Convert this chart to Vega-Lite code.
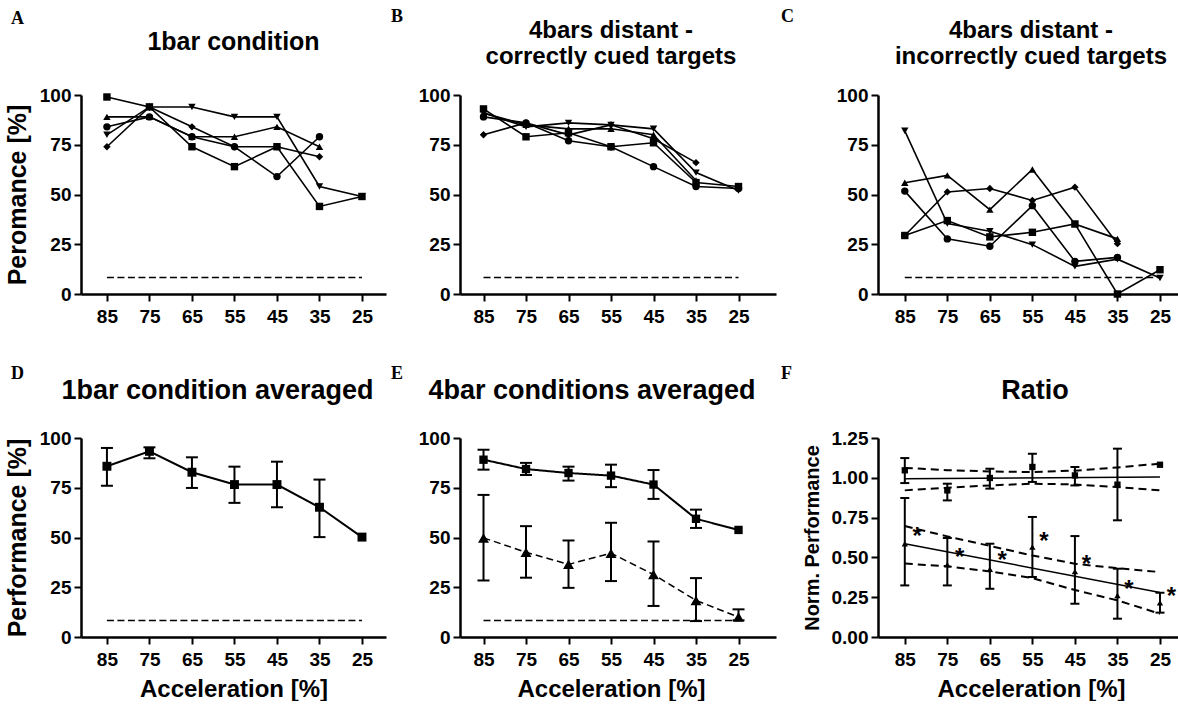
{
  "$schema": "https://vega.github.io/schema/vega-lite/v6.json",
  "background": "white",
  "padding": {"left": 5, "top": 8, "right": 0, "bottom": 0},
  "config": {
    "view": {"stroke": null},
    "font": "Liberation Sans",
    "axis": {"domainColor": "black", "domainWidth": 2.5, "tickColor": "black", "tickWidth": 2, "tickSize": 7, "labelFont": "Liberation Sans", "labelFontWeight": "bold", "labelFontSize": 19, "labelColor": "black", "titleFont": "Liberation Sans", "titleFontWeight": "bold", "titleFontSize": 25, "titleColor": "black", "grid": false, "labelFlush": false, "labelOverlap": false},
    "axisX": {"labelPadding": 6, "titlePadding": 8, "titleFontSize": 24},
    "axisY": {"labelPadding": 3, "titlePadding": 9},
    "title": {"font": "Liberation Sans", "fontSize": 25, "fontWeight": "bold", "color": "black"}
  },
  "datasets": {
    "chance": [{"acc": 85, "v": 8.33}, {"acc": 25, "v": 8.33}],
    "A": [
      {"acc": 85, "v": 99, "s": "sq"}, {"acc": 75, "v": 94, "s": "sq"}, {"acc": 65, "v": 74, "s": "sq"}, {"acc": 55, "v": 64, "s": "sq"}, {"acc": 45, "v": 74, "s": "sq"}, {"acc": 35, "v": 44, "s": "sq"}, {"acc": 25, "v": 49, "s": "sq"},
      {"acc": 85, "v": 89, "s": "tu"}, {"acc": 75, "v": 89, "s": "tu"}, {"acc": 65, "v": 79, "s": "tu"}, {"acc": 55, "v": 79, "s": "tu"}, {"acc": 45, "v": 84, "s": "tu"}, {"acc": 35, "v": 74, "s": "tu"},
      {"acc": 85, "v": 80, "s": "td"}, {"acc": 75, "v": 94, "s": "td"}, {"acc": 65, "v": 94, "s": "td"}, {"acc": 55, "v": 89, "s": "td"}, {"acc": 45, "v": 89, "s": "td"}, {"acc": 35, "v": 54, "s": "td"}, {"acc": 25, "v": 49, "s": "td"},
      {"acc": 85, "v": 74, "s": "di"}, {"acc": 75, "v": 94, "s": "di"}, {"acc": 65, "v": 84, "s": "di"}, {"acc": 55, "v": 74, "s": "di"}, {"acc": 45, "v": 74, "s": "di"}, {"acc": 35, "v": 69, "s": "di"},
      {"acc": 85, "v": 84, "s": "ci"}, {"acc": 75, "v": 89, "s": "ci"}, {"acc": 65, "v": 79, "s": "ci"}, {"acc": 55, "v": 74, "s": "ci"}, {"acc": 45, "v": 59, "s": "ci"}, {"acc": 35, "v": 79, "s": "ci"}
    ],
    "B": [
      {"acc": 85, "v": 93, "s": "sq"}, {"acc": 75, "v": 79, "s": "sq"}, {"acc": 65, "v": 81, "s": "sq"}, {"acc": 55, "v": 74, "s": "sq"}, {"acc": 45, "v": 76, "s": "sq"}, {"acc": 35, "v": 56, "s": "sq"}, {"acc": 25, "v": 54, "s": "sq"},
      {"acc": 85, "v": 89, "s": "ci"}, {"acc": 75, "v": 86, "s": "ci"}, {"acc": 65, "v": 77, "s": "ci"}, {"acc": 55, "v": 74, "s": "ci"}, {"acc": 45, "v": 64, "s": "ci"}, {"acc": 35, "v": 54, "s": "ci"}, {"acc": 25, "v": 53, "s": "ci"},
      {"acc": 85, "v": 80, "s": "di"}, {"acc": 75, "v": 86, "s": "di"}, {"acc": 65, "v": 80, "s": "di"}, {"acc": 55, "v": 85, "s": "di"}, {"acc": 45, "v": 78, "s": "di"}, {"acc": 35, "v": 66, "s": "di"},
      {"acc": 85, "v": 91, "s": "tu"}, {"acc": 75, "v": 85, "s": "tu"}, {"acc": 65, "v": 83, "s": "tu"}, {"acc": 55, "v": 83, "s": "tu"}, {"acc": 45, "v": 80, "s": "tu"}, {"acc": 35, "v": 57, "s": "tu"},
      {"acc": 85, "v": 91, "s": "td"}, {"acc": 75, "v": 84, "s": "td"}, {"acc": 65, "v": 86, "s": "td"}, {"acc": 55, "v": 85, "s": "td"}, {"acc": 45, "v": 83, "s": "td"}, {"acc": 35, "v": 61, "s": "td"}, {"acc": 25, "v": 52, "s": "td"}
    ],
    "C": [
      {"acc": 85, "v": 29.4, "s": "sq"}, {"acc": 75, "v": 36.9, "s": "sq"}, {"acc": 65, "v": 28.7, "s": "sq"}, {"acc": 55, "v": 31, "s": "sq"}, {"acc": 45, "v": 35.2, "s": "sq"}, {"acc": 35, "v": 0, "s": "sq"}, {"acc": 25, "v": 12.2, "s": "sq"},
      {"acc": 85, "v": 55.9, "s": "tu"}, {"acc": 75, "v": 59.6, "s": "tu"}, {"acc": 65, "v": 42.4, "s": "tu"}, {"acc": 55, "v": 62.6, "s": "tu"}, {"acc": 45, "v": 35.2, "s": "tu"}, {"acc": 35, "v": 27.7, "s": "tu"},
      {"acc": 85, "v": 82, "s": "td"}, {"acc": 75, "v": 35.4, "s": "td"}, {"acc": 65, "v": 31.5, "s": "td"}, {"acc": 55, "v": 24.8, "s": "td"}, {"acc": 45, "v": 13.9, "s": "td"}, {"acc": 35, "v": 17.5, "s": "td"}, {"acc": 25, "v": 8, "s": "td"},
      {"acc": 85, "v": 29.4, "s": "di"}, {"acc": 75, "v": 51.3, "s": "di"}, {"acc": 65, "v": 53, "s": "di"}, {"acc": 55, "v": 47, "s": "di"}, {"acc": 45, "v": 53.7, "s": "di"}, {"acc": 35, "v": 25.3, "s": "di"},
      {"acc": 85, "v": 51.7, "s": "ci"}, {"acc": 75, "v": 27.7, "s": "ci"}, {"acc": 65, "v": 24, "s": "ci"}, {"acc": 55, "v": 44.4, "s": "ci"}, {"acc": 45, "v": 16.4, "s": "ci"}, {"acc": 35, "v": 18.4, "s": "ci"}
    ],
    "D": [
      {"acc": 85, "v": 85.8, "lo": 76, "hi": 95}, {"acc": 75, "v": 93.3, "lo": 89.8, "hi": 95.3}, {"acc": 65, "v": 82.8, "lo": 74.9, "hi": 90.3}, {"acc": 55, "v": 76.6, "lo": 67.4, "hi": 85.6}, {"acc": 45, "v": 76.6, "lo": 65.2, "hi": 88.1}, {"acc": 35, "v": 65.2, "lo": 50.2, "hi": 79.1}, {"acc": 25, "v": 50.2, "lo": null, "hi": null}
    ],
    "E": [
      {"acc": 85, "v": 89.1, "lo": 84.1, "hi": 94.1, "c": "correct"}, {"acc": 75, "v": 84.4, "lo": 81.4, "hi": 87.5, "c": "correct"}, {"acc": 65, "v": 82.4, "lo": 78.6, "hi": 85.6, "c": "correct"}, {"acc": 55, "v": 81.1, "lo": 75.3, "hi": 86.6, "c": "correct"}, {"acc": 45, "v": 76.6, "lo": 69.4, "hi": 83.9, "c": "correct"}, {"acc": 35, "v": 59.4, "lo": 54.8, "hi": 64, "c": "correct"}, {"acc": 25, "v": 53.8, "lo": null, "hi": null, "c": "correct"},
      {"acc": 85, "v": 49.8, "lo": 28.4, "hi": 71.4, "c": "incorrect"}, {"acc": 75, "v": 42.6, "lo": 29.8, "hi": 55.7, "c": "incorrect"}, {"acc": 65, "v": 36.5, "lo": 24.7, "hi": 48.5, "c": "incorrect"}, {"acc": 55, "v": 42.1, "lo": 28.1, "hi": 57.4, "c": "incorrect"}, {"acc": 45, "v": 31.4, "lo": 15.6, "hi": 48, "c": "incorrect"}, {"acc": 35, "v": 18.4, "lo": 8, "hi": 29.6, "c": "incorrect"}, {"acc": 25, "v": 10, "lo": 8.4, "hi": 13.9, "c": "incorrect"}
    ],
    "F": [
      {"acc": 85, "v": 1.047, "lo": 0.967, "hi": 1.124, "c": "correct"}, {"acc": 75, "v": 0.921, "lo": 0.858, "hi": 0.963, "c": "correct"}, {"acc": 65, "v": 0.999, "lo": 0.932, "hi": 1.057, "c": "correct"}, {"acc": 55, "v": 1.068, "lo": 0.974, "hi": 1.151, "c": "correct"}, {"acc": 45, "v": 1.015, "lo": 0.952, "hi": 1.068, "c": "correct"}, {"acc": 35, "v": 0.957, "lo": 0.733, "hi": 1.183, "c": "correct"}, {"acc": 25, "v": 1.082, "lo": null, "hi": null, "c": "correct"},
      {"acc": 85, "v": 0.586, "lo": 0.324, "hi": 0.873, "c": "incorrect"}, {"acc": 75, "v": 0.454, "lo": 0.324, "hi": 0.622, "c": "incorrect"}, {"acc": 65, "v": 0.425, "lo": 0.303, "hi": 0.586, "c": "incorrect"}, {"acc": 55, "v": 0.565, "lo": 0.377, "hi": 0.754, "c": "incorrect"}, {"acc": 45, "v": 0.412, "lo": 0.209, "hi": 0.634, "c": "incorrect"}, {"acc": 35, "v": 0.261, "lo": 0.115, "hi": 0.429, "c": "incorrect"}, {"acc": 25, "v": 0.215, "lo": 0.153, "hi": 0.278, "c": "incorrect"}
    ],
    "Ffit": [
      {"acc": 85, "v": 0.994, "g": "c"}, {"acc": 25, "v": 1.005, "g": "c"},
      {"acc": 85, "v": 0.586, "g": "i"}, {"acc": 25, "v": 0.28, "g": "i"}
    ],
    "Fci": [
      {"acc": 85, "v": 1.062, "g": "cu"}, {"acc": 75, "v": 1.048, "g": "cu"}, {"acc": 65, "v": 1.04, "g": "cu"}, {"acc": 55, "v": 1.036, "g": "cu"}, {"acc": 45, "v": 1.045, "g": "cu"}, {"acc": 35, "v": 1.065, "g": "cu"}, {"acc": 25, "v": 1.089, "g": "cu"},
      {"acc": 85, "v": 0.921, "g": "cl"}, {"acc": 75, "v": 0.938, "g": "cl"}, {"acc": 65, "v": 0.952, "g": "cl"}, {"acc": 55, "v": 0.963, "g": "cl"}, {"acc": 45, "v": 0.958, "g": "cl"}, {"acc": 35, "v": 0.942, "g": "cl"}, {"acc": 25, "v": 0.921, "g": "cl"},
      {"acc": 85, "v": 0.697, "g": "iu"}, {"acc": 75, "v": 0.632, "g": "iu"}, {"acc": 65, "v": 0.572, "g": "iu"}, {"acc": 55, "v": 0.512, "g": "iu"}, {"acc": 45, "v": 0.46, "g": "iu"}, {"acc": 35, "v": 0.432, "g": "iu"}, {"acc": 25, "v": 0.408, "g": "iu"},
      {"acc": 85, "v": 0.461, "g": "il"}, {"acc": 75, "v": 0.444, "g": "il"}, {"acc": 65, "v": 0.412, "g": "il"}, {"acc": 55, "v": 0.37, "g": "il"}, {"acc": 45, "v": 0.295, "g": "il"}, {"acc": 35, "v": 0.23, "g": "il"}, {"acc": 25, "v": 0.146, "g": "il"}
    ],
    "Fstar": [
      {"acc": 82.1, "v": 0.67}, {"acc": 72.1, "v": 0.54}, {"acc": 62.1, "v": 0.521}, {"acc": 52.3, "v": 0.638}, {"acc": 42.3, "v": 0.496}, {"acc": 32.3, "v": 0.341}, {"acc": 22.3, "v": 0.297}
    ]
  },
  "columns": 3,
  "align": "each",
  "spacing": {"row": 39, "column": 5},
  "concat": [
    {
      "bounds": "flush",
      "title": {"text": "A", "anchor": "start", "frame": "group", "font": "Liberation Serif", "fontSize": 18, "fontWeight": "bold", "dx": -70, "offset": 2},
      "vconcat": [{
        "width": 305, "height": 199,
        "title": {"text": "1bar condition", "frame": "group", "offset": 31},
        "encoding": {
          "x": {"field": "acc", "type": "quantitative", "scale": {"domain": [19.35, 91.1], "reverse": true, "nice": false, "zero": false}, "axis": {"values": [85, 75, 65, 55, 45, 35, 25], "title": null}},
          "y": {"field": "v", "type": "quantitative", "scale": {"domain": [0, 100], "nice": false}, "axis": {"values": [0, 25, 50, 75, 100], "title": "Peromance [%]"}}
        },
        "layer": [
          {"data": {"name": "chance"}, "mark": {"type": "line", "color": "black", "strokeWidth": 1.5, "strokeDash": [7, 3.5]}},
          {"data": {"name": "A"}, "mark": {"type": "line", "color": "black", "strokeWidth": 1.6}, "encoding": {"detail": {"field": "s", "type": "nominal"}}},
          {"data": {"name": "A"}, "mark": {"type": "point", "filled": true, "color": "black", "opacity": 1, "size": 55}, "encoding": {"shape": {"field": "s", "type": "nominal", "scale": {"domain": ["sq", "tu", "td", "di", "ci"], "range": ["square", "triangle-up", "triangle-down", "diamond", "circle"]}, "legend": null}}}
        ]
      }]
    },
    {
      "bounds": "flush",
      "title": {"text": "B", "anchor": "start", "frame": "group", "font": "Liberation Serif", "fontSize": 18, "fontWeight": "bold", "dx": -69, "offset": -7},
      "vconcat": [{
        "width": 316, "height": 199,
        "title": {"text": ["4bars distant -", "correctly cued targets"], "frame": "group", "offset": 17, "lineHeight": 26, "fontSize": 24, "dx": -7},
        "encoding": {
          "x": {"field": "acc", "type": "quantitative", "scale": {"domain": [16.18, 90.53], "reverse": true, "nice": false, "zero": false}, "axis": {"values": [85, 75, 65, 55, 45, 35, 25], "title": null}},
          "y": {"field": "v", "type": "quantitative", "scale": {"domain": [0, 100], "nice": false}, "axis": {"values": [0, 25, 50, 75, 100], "title": null}}
        },
        "layer": [
          {"data": {"name": "chance"}, "mark": {"type": "line", "color": "black", "strokeWidth": 1.5, "strokeDash": [7, 3.5]}},
          {"data": {"name": "B"}, "mark": {"type": "line", "color": "black", "strokeWidth": 1.6}, "encoding": {"detail": {"field": "s", "type": "nominal"}}},
          {"data": {"name": "B"}, "mark": {"type": "point", "filled": true, "color": "black", "opacity": 1, "size": 55}, "encoding": {"shape": {"field": "s", "type": "nominal", "scale": {"domain": ["sq", "tu", "td", "di", "ci"], "range": ["square", "triangle-up", "triangle-down", "diamond", "circle"]}, "legend": null}}}
        ]
      }]
    },
    {
      "bounds": "flush",
      "title": {"text": "C", "anchor": "start", "frame": "group", "font": "Liberation Serif", "fontSize": 18, "fontWeight": "bold", "dx": -97, "offset": -7},
      "vconcat": [{
        "width": 306, "height": 199,
        "title": {"text": ["4bars distant -", "incorrectly cued targets"], "frame": "group", "offset": 17, "lineHeight": 26, "fontSize": 24},
        "encoding": {
          "x": {"field": "acc", "type": "quantitative", "scale": {"domain": [19.35, 91.3], "reverse": true, "nice": false, "zero": false}, "axis": {"values": [85, 75, 65, 55, 45, 35, 25], "title": null}},
          "y": {"field": "v", "type": "quantitative", "scale": {"domain": [0, 100], "nice": false}, "axis": {"values": [0, 25, 50, 75, 100], "title": null}}
        },
        "layer": [
          {"data": {"name": "chance"}, "mark": {"type": "line", "color": "black", "strokeWidth": 1.5, "strokeDash": [7, 3.5]}},
          {"data": {"name": "C"}, "mark": {"type": "line", "color": "black", "strokeWidth": 1.6}, "encoding": {"detail": {"field": "s", "type": "nominal"}}},
          {"data": {"name": "C"}, "mark": {"type": "point", "filled": true, "color": "black", "opacity": 1, "size": 55}, "encoding": {"shape": {"field": "s", "type": "nominal", "scale": {"domain": ["sq", "tu", "td", "di", "ci"], "range": ["square", "triangle-up", "triangle-down", "diamond", "circle"]}, "legend": null}}}
        ]
      }]
    },
    {
      "bounds": "flush",
      "title": {"text": "D", "anchor": "start", "frame": "group", "font": "Liberation Serif", "fontSize": 18, "fontWeight": "bold", "dx": -70, "offset": -6},
      "vconcat": [{
        "width": 305, "height": 199,
        "title": {"text": "1bar condition averaged", "frame": "group", "offset": 24, "dx": -16, "fontSize": 27},
        "encoding": {
          "x": {"field": "acc", "type": "quantitative", "scale": {"domain": [19.35, 91.1], "reverse": true, "nice": false, "zero": false}, "axis": {"values": [85, 75, 65, 55, 45, 35, 25], "title": "Acceleration [%]"}},
          "y": {"field": "v", "type": "quantitative", "scale": {"domain": [0, 100], "nice": false}, "axis": {"values": [0, 25, 50, 75, 100], "title": "Performance [%]"}}
        },
        "layer": [
          {"data": {"name": "chance"}, "mark": {"type": "line", "color": "black", "strokeWidth": 1.5, "strokeDash": [7, 3.5]}},
          {"data": {"name": "D"}, "mark": {"type": "line", "color": "black", "strokeWidth": 2}},
          {"data": {"name": "D"}, "mark": {"type": "rule", "color": "black", "strokeWidth": 2},
           "encoding": {"y": {"field": "lo", "type": "quantitative", "scale": {"domain": [0, 100], "nice": false}, "axis": {"values": [0, 25, 50, 75, 100], "title": "Performance [%]"}}, "y2": {"field": "hi"}}},
          {"data": {"name": "D"}, "mark": {"type": "tick", "orient": "horizontal", "color": "black", "size": 12, "thickness": 2, "opacity": 1},
           "encoding": {"y": {"field": "lo", "type": "quantitative", "scale": {"domain": [0, 100], "nice": false}, "axis": {"values": [0, 25, 50, 75, 100], "title": "Performance [%]"}}}},
          {"data": {"name": "D"}, "mark": {"type": "tick", "orient": "horizontal", "color": "black", "size": 12, "thickness": 2, "opacity": 1},
           "encoding": {"y": {"field": "hi", "type": "quantitative", "scale": {"domain": [0, 100], "nice": false}, "axis": {"values": [0, 25, 50, 75, 100], "title": "Performance [%]"}}}},
          {"data": {"name": "D"}, "mark": {"type": "point", "shape": "square", "filled": true, "color": "black", "opacity": 1, "size": 80}}
        ]
      }]
    },
    {
      "bounds": "flush",
      "title": {"text": "E", "anchor": "start", "frame": "group", "font": "Liberation Serif", "fontSize": 18, "fontWeight": "bold", "dx": -69, "offset": -6},
      "vconcat": [{
        "width": 316, "height": 199,
        "title": {"text": "4bar conditions averaged", "frame": "group", "offset": 24, "dx": -26, "fontSize": 27},
        "encoding": {
          "x": {"field": "acc", "type": "quantitative", "scale": {"domain": [16.18, 90.53], "reverse": true, "nice": false, "zero": false}, "axis": {"values": [85, 75, 65, 55, 45, 35, 25], "title": "Acceleration [%]", "titleX": 151}},
          "y": {"field": "v", "type": "quantitative", "scale": {"domain": [0, 100], "nice": false}, "axis": {"values": [0, 25, 50, 75, 100], "title": null}}
        },
        "layer": [
          {"data": {"name": "chance"}, "mark": {"type": "line", "color": "black", "strokeWidth": 1.5, "strokeDash": [7, 3.5]}},
          {"data": {"name": "E"}, "mark": {"type": "line", "color": "black"},
           "encoding": {"detail": {"field": "c", "type": "nominal"},
                        "strokeDash": {"field": "c", "type": "nominal", "scale": {"domain": ["correct", "incorrect"], "range": [[1, 0], [7, 4]]}, "legend": null},
                        "strokeWidth": {"field": "c", "type": "nominal", "scale": {"domain": ["correct", "incorrect"], "range": [2, 1.5]}, "legend": null}}},
          {"data": {"name": "E"}, "mark": {"type": "rule", "color": "black", "strokeWidth": 2},
           "encoding": {"y": {"field": "lo", "type": "quantitative", "scale": {"domain": [0, 100], "nice": false}, "axis": {"values": [0, 25, 50, 75, 100], "title": null}}, "y2": {"field": "hi"}}},
          {"data": {"name": "E"}, "mark": {"type": "tick", "orient": "horizontal", "color": "black", "size": 12, "thickness": 2, "opacity": 1},
           "encoding": {"y": {"field": "lo", "type": "quantitative", "scale": {"domain": [0, 100], "nice": false}, "axis": {"values": [0, 25, 50, 75, 100], "title": null}}}},
          {"data": {"name": "E"}, "mark": {"type": "tick", "orient": "horizontal", "color": "black", "size": 12, "thickness": 2, "opacity": 1},
           "encoding": {"y": {"field": "hi", "type": "quantitative", "scale": {"domain": [0, 100], "nice": false}, "axis": {"values": [0, 25, 50, 75, 100], "title": null}}}},
          {"data": {"name": "E"}, "mark": {"type": "point", "filled": true, "color": "black", "opacity": 1},
           "encoding": {"shape": {"field": "c", "type": "nominal", "scale": {"domain": ["correct", "incorrect"], "range": ["square", "triangle-up"]}, "legend": null},
                        "size": {"field": "c", "type": "nominal", "scale": {"domain": ["correct", "incorrect"], "range": [70, 120]}, "legend": null}}}
        ]
      }]
    },
    {
      "bounds": "flush",
      "title": {"text": "F", "anchor": "start", "frame": "group", "font": "Liberation Serif", "fontSize": 18, "fontWeight": "bold", "dx": -97, "offset": -6},
      "vconcat": [{
        "width": 306, "height": 199,
        "title": {"text": "Ratio", "frame": "group", "offset": 24, "dx": 4, "fontSize": 27},
        "encoding": {
          "x": {"field": "acc", "type": "quantitative", "scale": {"domain": [19.35, 91.3], "reverse": true, "nice": false, "zero": false}, "axis": {"values": [85, 75, 65, 55, 45, 35, 25], "title": "Acceleration [%]"}},
          "y": {"field": "v", "type": "quantitative", "scale": {"domain": [0, 1.25], "nice": false}, "axis": {"values": [0, 0.25, 0.5, 0.75, 1, 1.25], "format": ".2f", "title": "Norm. Performance", "titleFontSize": 20}}
        },
        "layer": [
          {"data": {"name": "Fci"}, "mark": {"type": "line", "color": "black", "strokeWidth": 2, "strokeDash": [8, 5]}, "encoding": {"detail": {"field": "g", "type": "nominal"}}},
          {"data": {"name": "Ffit"}, "mark": {"type": "line", "color": "black", "strokeWidth": 1.5}, "encoding": {"detail": {"field": "g", "type": "nominal"}}},
          {"data": {"name": "F"}, "mark": {"type": "rule", "color": "black", "strokeWidth": 2},
           "encoding": {"y": {"field": "lo", "type": "quantitative", "scale": {"domain": [0, 1.25], "nice": false}, "axis": {"values": [0, 0.25, 0.5, 0.75, 1, 1.25], "format": ".2f", "title": "Norm. Performance", "titleFontSize": 20}}, "y2": {"field": "hi"}}},
          {"data": {"name": "F"}, "mark": {"type": "tick", "orient": "horizontal", "color": "black", "size": 9, "thickness": 2, "opacity": 1},
           "encoding": {"y": {"field": "lo", "type": "quantitative", "scale": {"domain": [0, 1.25], "nice": false}, "axis": {"values": [0, 0.25, 0.5, 0.75, 1, 1.25], "format": ".2f", "title": "Norm. Performance", "titleFontSize": 20}}}},
          {"data": {"name": "F"}, "mark": {"type": "tick", "orient": "horizontal", "color": "black", "size": 9, "thickness": 2, "opacity": 1},
           "encoding": {"y": {"field": "hi", "type": "quantitative", "scale": {"domain": [0, 1.25], "nice": false}, "axis": {"values": [0, 0.25, 0.5, 0.75, 1, 1.25], "format": ".2f", "title": "Norm. Performance", "titleFontSize": 20}}}},
          {"data": {"name": "F"}, "mark": {"type": "point", "filled": true, "color": "black", "opacity": 1, "size": 40},
           "encoding": {"shape": {"field": "c", "type": "nominal", "scale": {"domain": ["correct", "incorrect"], "range": ["square", "triangle-up"]}, "legend": null}}},
          {"data": {"name": "Fstar"}, "mark": {"type": "text", "text": "*", "color": "black", "fontSize": 24, "fontWeight": "bold", "baseline": "middle", "dy": 7}}
        ]
      }]
    }
  ]
}
